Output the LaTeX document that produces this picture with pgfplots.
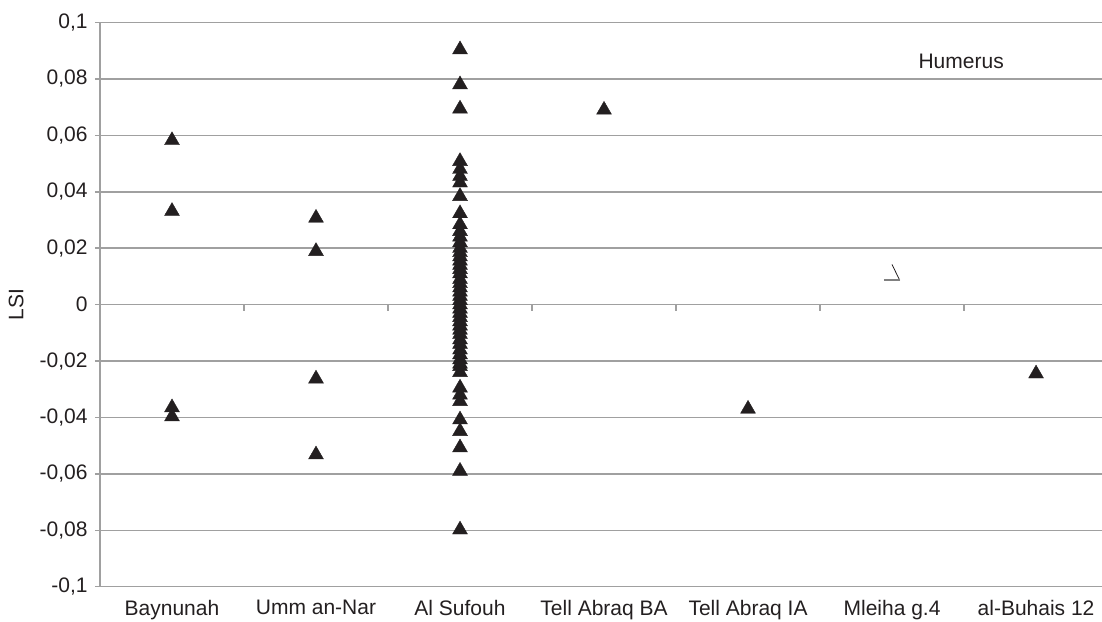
\documentclass[border=0pt]{standalone}
\usepackage{pgfplots}
\pgfplotsset{compat=1.18}
\usepackage{fontspec}
\setmainfont{Liberation Sans}
\definecolor{txt}{HTML}{231F20}
\definecolor{gridc}{HTML}{A0A0A0}
\pgfdeclareplotmark{brokentri}{%
  \pgfsetlinewidth{0.4pt}%
  \pgfpathmoveto{\pgfqpoint{0pt}{5.25pt}}%
  \pgfpathlineto{\pgfqpoint{3.8pt}{-2.6pt}}%
  \pgfusepathqstroke
  \pgfsetstrokecolor{gray}%
  \pgfsetlinewidth{0.9pt}%
  \pgfpathmoveto{\pgfqpoint{-4.1pt}{-2.6pt}}%
  \pgfpathlineto{\pgfqpoint{3.8pt}{-2.6pt}}%
  \pgfusepathqstroke
}
\newcommand{\fs}{\fontsize{10.5}{12.6}\selectfont}
\begin{document}
\begin{tikzpicture}
\begin{axis}[
  scale only axis,
  width=501pt, height=282.1pt,
  at={(0,0)}, anchor=south west,
  xmin=-0.5, xmax=6.458,
  ymin=-0.1, ymax=0.1,
  axis x line*=bottom, axis y line*=left,
  axis line style={gridc, line width=0.75pt},
  xtick={0,1,2,3,4,5,6},
  xticklabels={Baynunah,Umm an-Nar,Al Sufouh,Tell Abraq BA,Tell Abraq IA,Mleiha g.4,al-Buhais 12},
  x tick style={draw=none},
  ytick={-0.1,-0.08,-0.06,-0.04,-0.02,0,0.02,0.04,0.06,0.08,0.1},
  yticklabels={{-0,1},{-0,08},{-0,06},{-0,04},{-0,02},{0},{0,02},{0,04},{0,06},{0,08},{0,1}},
  y tick style={gridc, line width=0.75pt},
  tick align=outside,
  major tick length=2.5pt,
  ymajorgrids,
  grid style={gridc, line width=0.75pt},
  tick label style={font=\fs, text=txt},
  yticklabel style={inner sep=0pt, xshift=-3.5pt},
  xticklabel style={inner sep=0pt, anchor=north, yshift=-4pt},
  ylabel={LSI},
  every axis y label/.style={at={(axis description cs:-0.0838,0.5)}, rotate=90, anchor=center, font=\fs, text=txt},
  clip=false,
]
\foreach \k in {0.5,1.5,2.5,3.5,4.5,5.5} {
  \edef\tmp{\noexpand\draw[gridc, line width=0.75pt] (axis cs:\k,0) -- ([yshift=-3pt]axis cs:\k,0);}
  \tmp
}
\addplot[only marks, mark=triangle*, mark size=4.3pt, mark options={fill=txt, draw=txt, line width=0.2pt}] coordinates {
  (0,0.0582) (0,0.0331) (0,-0.0365) (0,-0.0397)
  (1,0.0307) (1,0.0189) (1,-0.0263) (1,-0.0532)
  (2,0.0904) (2,0.078) (2,0.0694) (2,0.0508) (2,0.048) (2,0.0455) (2,0.0432) (2,0.0384)
  (2,0.0323) (2,0.0284) (2,0.026) (2,0.024) (2,0.022) (2,0.020) (2,0.0185) (2,0.017)
  (2,0.0155) (2,0.014) (2,0.0125) (2,0.011) (2,0.009) (2,0.0075) (2,0.006) (2,0.0045)
  (2,0.003) (2,0.0015) (2,0.000) (2,-0.0015) (2,-0.003) (2,-0.0045) (2,-0.006) (2,-0.0075)
  (2,-0.009) (2,-0.0105) (2,-0.0124) (2,-0.014) (2,-0.016) (2,-0.0177) (2,-0.0195) (2,-0.021)
  (2,-0.0219) (2,-0.024) (2,-0.0295) (2,-0.032) (2,-0.0343) (2,-0.0408) (2,-0.0449)
  (2,-0.0507) (2,-0.059) (2,-0.0798)
  (3,0.0690)
  (4,-0.0370)
  (6,-0.0245)
};
\addplot[only marks, mark=brokentri, draw=txt] coordinates {(5,0.0105)};
\node[font=\fs, text=txt, anchor=center] at (axis cs:5.48,0.0861) {Humerus};
\end{axis}
\pgfresetboundingbox
\path (-50pt,-17.15pt) rectangle (501pt,293.35pt);
\end{tikzpicture}
\end{document}
